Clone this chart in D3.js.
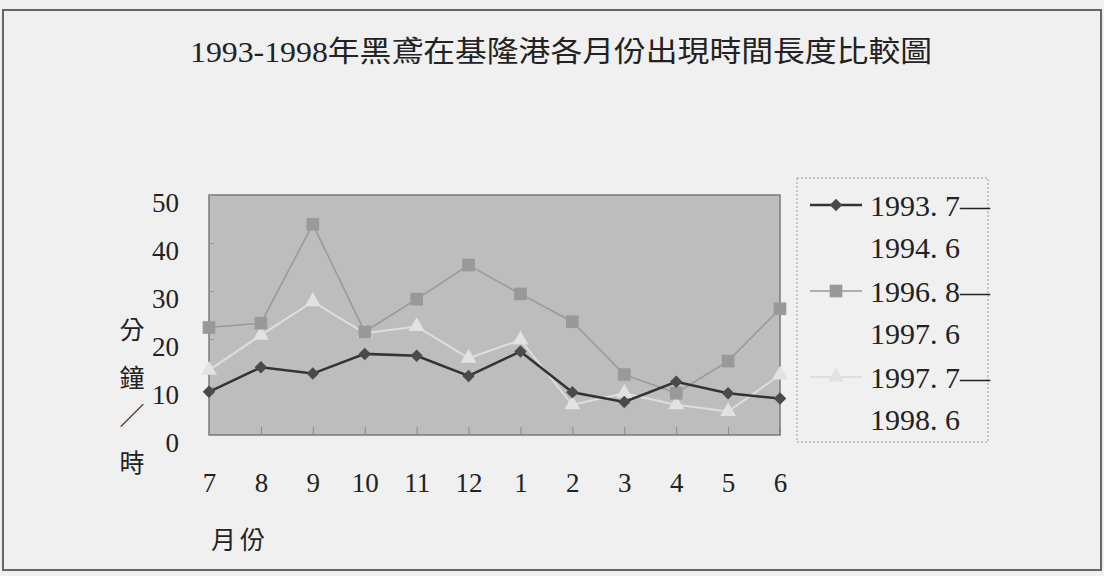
<!DOCTYPE html>
<html>
<head>
<meta charset="utf-8">
<script src="https://cdn.jsdelivr.net/npm/d3@7"></script>
<style>
  body { margin: 0; background: #f0f0f0; }
  text { font-family: "Liberation Serif", "Noto Sans CJK TC", serif; fill: #222; }
</style>
</head>
<body>
<div id="chart"></div>
<script>
// data
var months = ["7", "8", "9", "10", "11", "12", "1", "2", "3", "4", "5", "6"];
var s1993 = [9, 14.1, 12.8, 16.9, 16.5, 12.3, 17.4, 8.9, 6.9, 11.1, 8.7, 7.6];
var s1996 = [22.4, 23.3, 43.9, 21.5, 28.3, 35.4, 29.4, 23.6, 12.6, 8.7, 15.4, 26.3];
var s1997 = [13.5, 20.8, 27.8, 21.2, 22.6, 16.0, 19.8, 6.3, 8.7, 6.3, 4.9, 12.5];
var yTicks = [0, 10, 20, 30, 40, 50];
var legendLabels = [["1993. 7\u2014", "1994. 6"], ["1996. 8\u2014", "1997. 6"], ["1997. 7\u2014", "1998. 6"]];

var series = [
  {values: s1993, line: "#333", fill: "#4a4a4a", width: 2.5, symbol: d3.symbolSquare, size: 78, rot: 45},
  {values: s1996, line: "#9a9a9a", fill: "#999", width: 1.6, symbol: d3.symbolSquare, size: 160, rot: 0},
  {values: s1997, line: "#dedede", fill: "#e2e2e2", width: 2, symbol: d3.symbolTriangle, size: 110, rot: 0}
];

var svg = d3.select("#chart")
  .append("svg")
    .attr("width", 1104)
    .attr("height", 576);

// outer frame
svg.append("rect")
  .attr("x", 3).attr("y", 10)
  .attr("width", 1098).attr("height", 560)
  .attr("fill", "#f0f0f0")
  .attr("stroke", "#666")
  .attr("stroke-width", 2);

// title
svg.append("text")
  .attr("x", 190).attr("y", 62)
  .attr("font-size", 29)
  .attr("textLength", 742)
  .attr("lengthAdjust", "spacingAndGlyphs")
  .text("1993-1998年黑鳶在基隆港各月份出現時間長度比較圖");

// scales
var x = d3.scalePoint()
  .domain(months)
  .range([209, 780]);

var y = d3.scaleLinear()
  .domain([0, 50])
  .range([435, 195]);

// plot area
svg.append("rect")
  .attr("x", 209).attr("y", 195)
  .attr("width", 571).attr("height", 240)
  .attr("fill", "#bdbdbd")
  .attr("stroke", "#7a7a7a")
  .attr("stroke-width", 1.5);

// y axis
var yAxis = svg.append("g")
  .attr("transform", "translate(209,0)")
  .call(d3.axisLeft(y).tickValues(yTicks).tickSize(-5).tickPadding(30));
yAxis.select(".domain").remove();
yAxis.selectAll("line").attr("stroke", "#999");
yAxis.selectAll("text")
  .attr("font-size", 27)
  .attr("dy", "0.62em")
  .attr("fill", "#222")
  .attr("font-family", "Liberation Serif");

// x axis
var xAxis = svg.append("g")
  .attr("transform", "translate(0,435)")
  .call(d3.axisBottom(x).tickSize(-8).tickPadding(38));
xAxis.select(".domain").remove();
xAxis.selectAll("line").attr("stroke", "#8a8a8a");
xAxis.selectAll("text")
  .attr("font-size", 27)
  .attr("fill", "#222")
  .attr("font-family", "Liberation Serif");

// axis titles
var yTitle = ["分", "鐘", "／", "時"];
var yTitleY = [330, 378, 416, 463];
svg.append("g").selectAll("text")
  .data(yTitle)
  .enter()
  .append("text")
    .attr("x", 132)
    .attr("y", function (d, i) { return yTitleY[i]; })
    .attr("text-anchor", "middle")
    .attr("dominant-baseline", "central")
    .attr("font-size", 25)
    .text(function (d) { return d; });

svg.append("text")
  .attr("x", 211).attr("y", 549)
  .attr("font-size", 25)
  .attr("letter-spacing", 4)
  .text("月份");

// lines and markers
var line = d3.line()
  .x(function (d, i) { return x(months[i]); })
  .y(function (d) { return y(d); });

series.slice().reverse().forEach(function (s) {
  svg.append("path")
    .datum(s.values)
    .attr("d", line)
    .attr("fill", "none")
    .attr("stroke", s.line)
    .attr("stroke-width", s.width);
});

series.slice().reverse().forEach(function (s) {
  svg.append("g")
    .selectAll("path")
    .data(s.values)
    .enter()
    .append("path")
      .attr("d", d3.symbol().type(s.symbol).size(s.size))
      .attr("transform", function (d, i) {
        return "translate(" + x(months[i]) + "," + y(d) + ") rotate(" + s.rot + ")";
      })
      .attr("fill", s.fill);
});

// legend
svg.append("rect")
  .attr("x", 797).attr("y", 178)
  .attr("width", 191).attr("height", 264)
  .attr("fill", "#f0f0f0")
  .attr("stroke", "#999")
  .attr("stroke-dasharray", "2,2");

var legend = svg.append("g").selectAll("g")
  .data(series)
  .enter()
  .append("g")
    .attr("transform", function (d, i) { return "translate(0," + (205 + i * 86) + ")"; });

legend.append("line")
  .attr("x1", 810).attr("x2", 862)
  .attr("y1", 0).attr("y2", 0)
  .attr("stroke", function (d) { return d.line; })
  .attr("stroke-width", function (d) { return d.width; });

legend.append("path")
  .attr("d", function (d) { return d3.symbol().type(d.symbol).size(d.size)(); })
  .attr("transform", function (d) { return "translate(836,0) rotate(" + d.rot + ")"; })
  .attr("fill", function (d) { return d.fill; });

legend.append("text")
  .attr("x", 870).attr("y", 0)
  .attr("dy", "0.35em")
  .attr("font-size", 30)
  .text(function (d, i) { return legendLabels[i][0]; });

legend.append("text")
  .attr("x", 870).attr("y", 42)
  .attr("dy", "0.35em")
  .attr("font-size", 30)
  .text(function (d, i) { return legendLabels[i][1]; });
</script>
</body>
</html>
